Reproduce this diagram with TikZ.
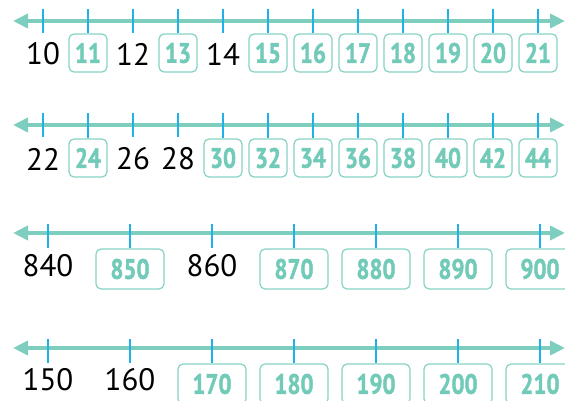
\documentclass[tikz,border=0pt]{standalone}
\usepackage{fontspec}
\setmainfont{PT Sans}
\newfontfamily\cifre[FakeStretch=0.82,FakeBold=1.5]{PT Sans Bold}
\usetikzlibrary{arrows.meta}

% Colori
\definecolor{colLinea}{HTML}{7ECEC0}
\definecolor{colTacca}{HTML}{1FB1E8}
\definecolor{colBox}{HTML}{86D2C4}
\definecolor{colCifra}{HTML}{72CAB8}

\tikzset{
  retta/.style={colLinea, line width=4pt,
    {Triangle[length=15pt,width=14pt]}-{Triangle[length=15pt,width=14pt]}},
  tacca/.style={colTacca, line width=1.3pt},
  num/.style={font=\fontsize{31}{31}\selectfont, text=black, inner sep=0pt},
  casella/.style={draw=colBox, line width=1.2pt, rounded corners=5pt,
    text=colCifra, font=\fontsize{28}{28}\cifre,
    minimum width=38pt, minimum height=38pt, inner sep=0pt},
  casellalarga/.style={casella, minimum width=68pt, minimum height=40pt},
}

\begin{document}
\begin{tikzpicture}[x=1pt, y=-1pt]

\useasboundingbox (0,0) rectangle (565,401);

% Prima retta: da 10 a 21
\coordinate (a1) at (13,21);
\coordinate (b1) at (565,21);
\draw[retta] (a1) -- (b1);
\foreach \v/\x in {10/43,12/133,14/223} {
  \node[num] (r1n\v) at (\x,54) {\v};
  \draw[tacca] (\x,9) -- (\x,33);
}
\foreach \v/\x in {11/88,13/178,15/268,16/313,17/358,18/403,19/448,20/493,21/538} {
  \node[casella] (r1n\v) at (\x,53) {\v};
  \draw[tacca] (\x,9) -- (r1n\v.north);
}

% Seconda retta: da 22 a 44
\coordinate (a2) at (13,125);
\coordinate (b2) at (565,125);
\draw[retta] (a2) -- (b2);
\foreach \v/\x in {22/43,26/133,28/178} {
  \node[num] (r2n\v) at (\x,159) {\v};
  \draw[tacca] (\x,113) -- (\x,137);
}
\foreach \v/\x in {24/88,30/223,32/268,34/313,36/358,38/403,40/448,42/493,44/538} {
  \node[casella] (r2n\v) at (\x,158) {\v};
  \draw[tacca] (\x,113) -- (r2n\v.north);
}

% Terza retta: da 840 a 900
\coordinate (a3) at (13,233);
\coordinate (b3) at (565,233);
\draw[retta] (a3) -- (b3);
\foreach \v/\x in {840/48,860/212} {
  \node[num] (r3n\v) at (\x,266) {\v};
  \draw[tacca] (\x,224) -- (\x,248);
}
\foreach \v/\x in {850/130,870/294,880/376,890/458,900/540} {
  \node[casellalarga] (r3n\v) at (\x,269) {\v};
  \draw[tacca] (\x,224) -- (r3n\v.north);
}

% Quarta retta: da 150 a 210
\coordinate (a4) at (13,348);
\coordinate (b4) at (565,348);
\draw[retta] (a4) -- (b4);
\foreach \v/\x in {150/48,160/130} {
  \node[num] (r4n\v) at (\x,380) {\v};
  \draw[tacca] (\x,339) -- (\x,363);
}
\foreach \v/\x in {170/212,180/294,190/376,200/458,210/540} {
  \node[casellalarga] (r4n\v) at (\x,384) {\v};
  \draw[tacca] (\x,339) -- (r4n\v.north);
}

\end{tikzpicture}
\end{document}
